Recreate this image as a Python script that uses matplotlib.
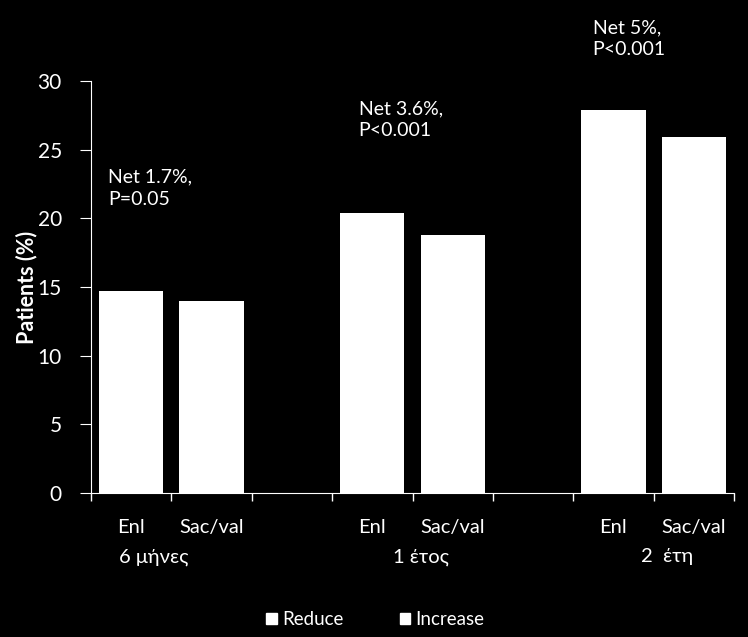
import matplotlib.pyplot as plt
from matplotlib.patches import Patch
import matplotlib.transforms as mtransforms
import numpy as np

plt.rcParams['font.family'] = ['Lato', 'DejaVu Sans']

# 8 slots on the category axis, two of them left empty between groups
slot_labels = ["Enl", "Sac/val", "", "Enl", "Sac/val", "", "Enl", "Sac/val"]
values = [14.7, 14.0, np.nan, 20.4, 18.8, np.nan, 27.9, 25.9]
group_labels = ["6 μήνες", "1 έτος", "2  έτη"]
group_x = [-0.15, 3.26, 6.34]
notes = ["Net 1.7%,\nP=0.05", "Net 3.6%,\nP<0.001", "Net 5%,\nP<0.001"]
note_xy = [(-0.29, 23.6), (2.83, 28.6), (5.74, 34.5)]
legend_names = ["Reduce", "Increase"]

fig = plt.figure(figsize=(7.48, 6.37), dpi=100, facecolor="black")
ax = fig.add_axes([0.1217, 0.226, 0.8596, 0.647])
ax.set_facecolor("black")

x = np.arange(len(slot_labels))
ax.bar(x, values, width=0.8, color="white")

ax.set_xlim(-0.5, len(slot_labels) - 0.5)
ax.set_ylim(0, 30)
ax.set_yticks(range(0, 31, 5))

# tick marks on slot boundaries, labels at slot centres
ax.set_xticks(np.arange(-0.5, len(slot_labels)), labels=[])
ax.set_xticks(x, labels=slot_labels, minor=True)
ax.tick_params(axis="x", which="major", length=6, direction="out", color="white", width=1)
ax.tick_params(axis="x", which="minor", length=0, pad=19, labelsize=14.5, labelcolor="white")
ax.tick_params(axis="y", length=8, color="white", labelsize=15, labelcolor="white", pad=13)

for side in ["top", "right"]:
    ax.spines[side].set_visible(False)
for side in ["left", "bottom"]:
    ax.spines[side].set_color("white")

ax.set_ylabel("Patients (%)", color="white", fontsize=15.5, fontweight="bold", va="center")
ax.yaxis.set_label_coords(-0.1, 0.5)

trans = mtransforms.blended_transform_factory(ax.transData, ax.transAxes)
for gx, gl in zip(group_x, group_labels):
    ax.text(gx, -0.155, gl, transform=trans, color="white", fontsize=14.5,
            ha="left", va="center")

for (nx, ny), note in zip(note_xy, notes):
    ax.text(nx, ny, note, color="white", fontsize=14, ha="left", va="top",
            linespacing=1.35, clip_on=False)

handles = [Patch(facecolor="white", edgecolor="white") for _ in legend_names]
fig.legend(handles, legend_names, loc="center", bbox_to_anchor=(0.502, 0.027),
           ncol=2, frameon=False, fontsize=13.5, labelcolor="white",
           handlelength=0.55, handleheight=0.55, handletextpad=0.3, columnspacing=3.0)

fig.savefig("out.png", dpi=100, facecolor="black")
